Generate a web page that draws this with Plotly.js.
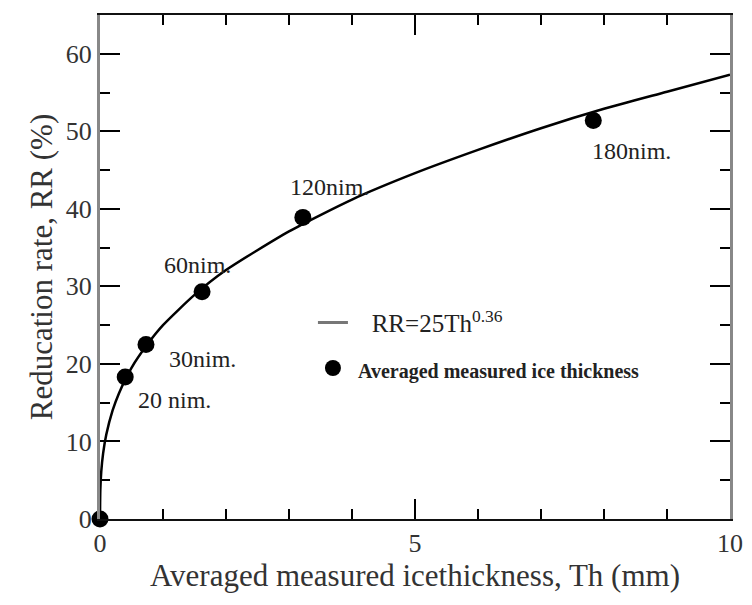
<!DOCTYPE html>
<html>
<head>
<meta charset="utf-8">
<script src="https://cdn.plot.ly/plotly-3.0.1.min.js"></script>
<style>html,body{margin:0;padding:0;background:#fff;}#chart{width:752px;height:605px;}</style>
</head>
<body>
<div id="chart"></div>
<script>
// Fitted curve RR = 25 Th^0.36
const fitTh = [0, 0.005, 0.02, 0.05, 0.1, 0.2, 0.3, 0.5, 0.75, 1, 1.5, 2, 3, 4, 5, 6, 7, 8, 9, 10];
const fitRR = [0, 3.7, 6.1, 8.5, 10.9, 14.0, 16.2, 19.5, 22.5, 25.0, 28.9, 32.1, 37.1, 41.2, 44.6, 47.6, 50.4, 52.9, 55.1, 57.3];

// Measured points
const measTh = [0, 0.40, 0.73, 1.62, 3.22, 7.83];
const measRR = [0, 18.3, 22.5, 29.3, 38.9, 51.4];

// Point labels
const labelText = ["20 nim.", "30nim.", "60nim.", "120nim.", "180nim."];
const labelTh = [0.57, 1.06, 0.98, 2.99, 7.78];
const labelRR = [15.4, 20.7, 32.8, 42.8, 47.5];

const xTickVals = [0, 5, 10];
const yTickVals = [0, 10, 20, 30, 40, 50, 60];

const serif = "'Liberation Serif', 'Times New Roman', serif";
const nb = "\u00a0";

const traces = [
  {
    x: fitTh, y: fitRR, mode: 'lines', type: 'scatter',
    line: {color: '#000', width: 2.5, shape: 'spline', smoothing: 0.6},
    name: 'fit', showlegend: false
  },
  {
    x: [null], y: [null], mode: 'lines', type: 'scatter',
    line: {color: '#777', width: 3},
    name: nb + nb + nb + 'RR=25Th<sup>0.36</sup>', legendgroup: 'a'
  },
  {
    x: measTh, y: measRR, mode: 'markers', type: 'scatter',
    marker: {color: '#000', size: 17, symbol: 'circle'},
    name: '<span style="font-size:20px">' + nb + '<b>Averaged measured ice thickness</b></span>',
    legendgroup: 'b', cliponaxis: false
  }
];

const annotations = labelText.map((t, i) => ({
  x: labelTh[i], y: labelRR[i], xref: 'x', yref: 'y',
  text: t, showarrow: false, xanchor: 'left', yanchor: 'middle',
  font: {family: serif, size: 24, color: '#222'}
}));

const layout = {
  width: 752, height: 605,
  margin: {l: 100, r: 22, t: 15, b: 86},
  paper_bgcolor: '#fff', plot_bgcolor: '#fff',
  font: {family: serif, color: '#222'},
  showlegend: true,
  legend: {
    x: 0.338, y: 0.435, xanchor: 'left', yanchor: 'top',
    bgcolor: 'rgba(0,0,0,0)', font: {family: serif, size: 25, color: '#222'},
    tracegroupgap: 10
  },
  xaxis: {
    range: [0, 10], tickvals: xTickVals, ticks: 'inside', ticklen: 20, tickwidth: 2,
    tickcolor: '#000', showline: true, linecolor: '#111', linewidth: 2, mirror: 'ticks',
    showgrid: false, zeroline: false,
    tickfont: {family: serif, size: 26, color: '#333'},
    minor: {dtick: 1, ticks: 'inside', ticklen: 10, tickwidth: 2, tickcolor: '#000', showgrid: false},
    title: {text: 'Averaged measured icethickness, Th (mm)', font: {family: serif, size: 31, color: '#333'}, standoff: 6}
  },
  yaxis: {
    range: [0, 65], tickvals: yTickVals, ticks: 'inside', ticklen: 20, tickwidth: 2,
    tickcolor: '#000', showline: true, linecolor: '#888', linewidth: 3, mirror: 'ticks',
    showgrid: false, zeroline: false,
    tickfont: {family: serif, size: 26, color: '#333'},
    minor: {dtick: 5, ticks: 'inside', ticklen: 10, tickwidth: 2, tickcolor: '#000', showgrid: false},
    title: {text: 'Reducation rate, RR (%)', font: {family: serif, size: 31, color: '#333'}, standoff: 4}
  },
  annotations: annotations
};

Plotly.newPlot('chart', traces, layout, {displayModeBar: false, staticPlot: true});
</script>
</body>
</html>
